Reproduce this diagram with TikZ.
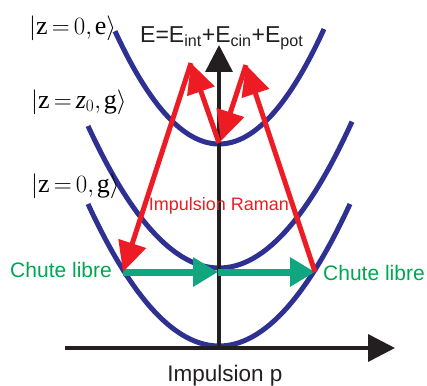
\documentclass[tikz,border=0pt]{standalone}
\usepackage{fontspec}
\setmainfont{Liberation Serif}
\setsansfont{Liberation Sans}
\usepackage{tikz}
\usetikzlibrary{arrows.meta}
\definecolor{potblue}{RGB}{46,49,146}
\definecolor{ramanred}{RGB}{237,28,36}
\definecolor{fallgreen}{RGB}{18,166,128}
\definecolor{labelgreen}{RGB}{0,166,81}
\definecolor{axisblack}{RGB}{35,31,32}
\newcommand{\eqsign}{\mkern3mu{\mathrm{=}}\mkern3mu}

\begin{document}
\begin{tikzpicture}[x=1pt, y=-1pt,
    every node/.style={inner sep=0pt},
    potential/.style={potblue, line width=5pt},
    axis/.style={axisblack, line width=3.5pt, -{Triangle[length=27pt,width=27pt]}},
    raman/.style={ramanred, line width=5pt, -{Triangle[length=30pt,width=28pt]}},
    fall/.style={fallgreen, line width=7pt, -{Triangle[length=25pt,width=28pt]}},
    ket/.style={anchor=west, font=\fontsize{26}{28}\selectfont}]
        \useasboundingbox (0,0) rectangle (427,385);
        % Potentials
        \draw[potential] plot[domain=-13.1:13.1, samples=60] ({219+10*\x},{346-0.8275*\x*\x});
        \draw[potential] plot[domain=-13.1:13.3, samples=60] ({219+10*\x},{268-0.8275*\x*\x});
        \draw[potential] plot[domain=-10.4:10.5, samples=60] ({219+10*\x},{144-1.043*\x*\x});
        % Axes
        \coordinate (origin) at (219,348);
        \coordinate (ytip) at (219,45);
        \coordinate (xstart) at (65,348);
        \coordinate (xtip) at (395,348);
        \draw[axis] (origin) -- (ytip);
        \draw[axis] (xstart) -- (xtip);
        % Points of the trajectory
        \coordinate (vtop) at (219,143);
        \coordinate (ltop) at (191,63);
        \coordinate (rtop) at (246,65);
        \coordinate (vdown) at (221,141);
        \coordinate (lfall) at (123,272);
        \coordinate (mfall) at (218,272);
        \coordinate (rfall) at (315,272);
        % Free fall
        \draw[fall] (lfall) -- (mfall);
        \draw[fall] (mfall) -- (rfall);
        % Raman pulses
        \draw[raman] (vtop) -- (ltop);
        \draw[raman] (ltop) -- (lfall);
        \draw[raman] (rfall) -- (rtop);
        \draw[raman] (rtop) -- (vdown);
        % Labels
        \node[ket] (kete) at (29,28) {$\left|\mathrm{z}\eqsign0{,}\mkern2mu\mathrm{e}\right\rangle$};
        \node[ket] (ketz) at (31,102) {$\left|\mathrm{z}\eqsign\mbox{\itshape z}_0{,}\mkern2mu\mathrm{g}\right\rangle$};
        \node[ket] (ketg) at (31,186) {$\left|\mathrm{z}\eqsign0{,}\mkern2mu\mathrm{g}\right\rangle$};
        \node[anchor=base west, font=\sffamily\fontsize{23}{26}\selectfont, axisblack]
          (energy) at (140,43) {E=E\textsubscript{int}+E\textsubscript{cin}+E\textsubscript{pot}};
        \node[font=\sffamily\fontsize{18}{20}\selectfont, ramanred]
          (raman) at (219,206) {Impulsion Raman};
        \node[anchor=east, font=\sffamily\fontsize{21}{22}\selectfont, labelgreen]
          (lchute) at (112,270) {Chute libre};
        \node[anchor=west, font=\sffamily\fontsize{21}{22}\selectfont, labelgreen]
          (rchute) at (323,273) {Chute libre};
        \node[anchor=base, font=\sffamily\fontsize{22.5}{24}\selectfont, axisblack]
          (impulsion) at (225,381) {Impulsion p};
      \end{tikzpicture}
\end{document}
